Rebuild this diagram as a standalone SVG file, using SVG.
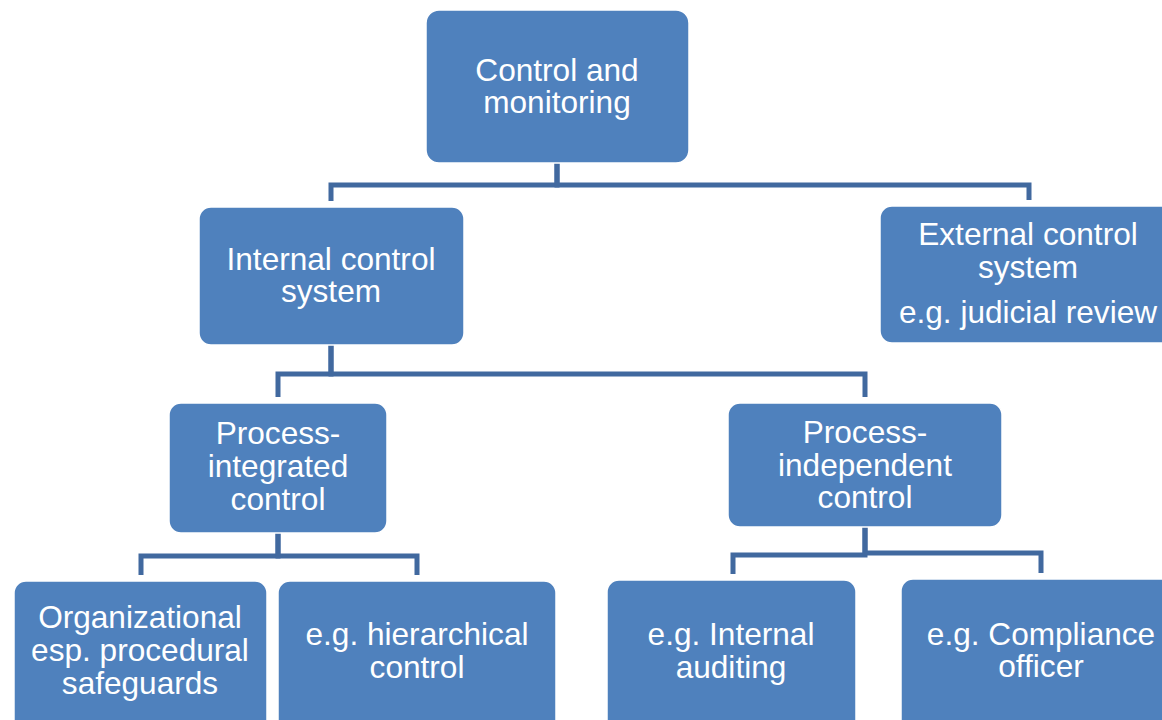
<svg xmlns="http://www.w3.org/2000/svg" width="1162" height="720" viewBox="0 0 1162 720">
<style>
.box{fill:#4F81BD;stroke:#ffffff;stroke-width:1.5}
.t{font-family:"Liberation Sans",Arial,sans-serif;font-size:31.6px;fill:#ffffff;text-anchor:middle}
.c{fill:none;stroke:#41699F;stroke-width:5;stroke-linejoin:miter;stroke-linecap:butt}
</style>
<rect width="1162" height="720" fill="#ffffff"/>
<g id="connectors">
<path class="c" d="M557,163 V185 H331 V201"/>
<path class="c" d="M557,163 V185 H1029 V200"/>
<path class="c" d="M331,345 V374 H278 V397"/>
<path class="c" d="M331,345 V374 H865 V397"/>
<path class="c" d="M278,533 V556 H141 V575"/>
<path class="c" d="M278,533 V556 H417 V575"/>
<path class="c" d="M865,527 V555 H733 V574"/>
<path class="c" d="M865,527 V553 H1041 V573"/>
</g>
<g id="control-monitoring">
<rect class="box" x="426" y="10" width="263" height="153" rx="13"/>
<text class="t" x="557" y="81">Control and</text>
<text class="t" x="557" y="113">monitoring</text>
</g>
<g id="internal-control">
<rect class="box" x="199" y="207" width="265" height="138" rx="12"/>
<text class="t" x="331" y="270">Internal control</text>
<text class="t" x="331" y="302">system</text>
</g>
<g id="external-control">
<rect class="box" x="880" y="206" width="300" height="137" rx="12"/>
<text class="t" x="1028" y="245">External control</text>
<text class="t" x="1028" y="278">system</text>
<text class="t" x="1028" y="323">e.g. judicial review</text>
</g>
<g id="process-integrated">
<rect class="box" x="169" y="403" width="218" height="130" rx="12"/>
<text class="t" x="278" y="444">Process-</text>
<text class="t" x="278" y="477">integrated</text>
<text class="t" x="278" y="510">control</text>
</g>
<g id="process-independent">
<rect class="box" x="728" y="403" width="274" height="124" rx="12"/>
<text class="t" x="865" y="443">Process-</text>
<text class="t" x="865" y="476">independent</text>
<text class="t" x="865" y="508">control</text>
</g>
<g id="organizational">
<rect class="box" x="14" y="581" width="253" height="160" rx="12"/>
<text class="t" x="140" y="628">Organizational</text>
<text class="t" x="140" y="661">esp. procedural</text>
<text class="t" x="140" y="694">safeguards</text>
</g>
<g id="hierarchical">
<rect class="box" x="278" y="581" width="278" height="160" rx="12"/>
<text class="t" x="417" y="645">e.g. hierarchical</text>
<text class="t" x="417" y="678">control</text>
</g>
<g id="internal-auditing">
<rect class="box" x="607" y="580" width="249" height="160" rx="12"/>
<text class="t" x="731" y="645">e.g. Internal</text>
<text class="t" x="731" y="678">auditing</text>
</g>
<g id="compliance-officer">
<rect class="box" x="901" y="579" width="280" height="160" rx="12"/>
<text class="t" x="1041" y="645">e.g. Compliance</text>
<text class="t" x="1041" y="677">officer</text>
</g>
</svg>
